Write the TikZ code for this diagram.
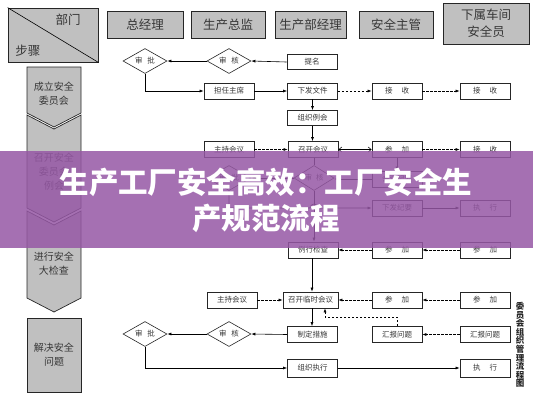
\documentclass[tikz,border=0pt]{standalone}
\usepackage{fontspec}
\setmainfont{Noto Sans CJK SC}
\usetikzlibrary{arrows.meta,shapes.geometric}
\definecolor{hdrgray}{RGB}{192,192,192}
\definecolor{bannerc}{RGB}{150,88,165}
\definecolor{txt}{RGB}{55,55,55}
\begin{document}
\begin{tikzpicture}[x=1pt,y=-1pt,
  hdr/.style={draw=black!85, line width=0.8pt, fill=hdrgray, minimum height=27pt, inner sep=0pt, font=\fontsize{12.5}{17}\selectfont, text=txt},
  fbox/.style={draw=black!85, line width=0.7pt, fill=white, minimum width=50pt, minimum height=16pt, inner sep=0pt, font=\fontsize{7.5}{9}\selectfont, text=txt},
  dia/.style={diamond, aspect=1.8, draw=black!85, line width=0.6pt, fill=white, minimum width=44pt, minimum height=25pt, inner sep=0pt, font=\fontsize{7.5}{9}\selectfont, text=txt},
  chev/.style={draw=black!85, line width=0.7pt, fill=hdrgray},
  ltxt/.style={align=center, font=\fontsize{10}{14}\selectfont, text=txt},
  arr/.style={line width=0.6pt, -{Latex[length=4pt,width=3pt]}},
  darr/.style={arr, dash pattern=on 2.5pt off 1.5pt},
]
\useasboundingbox (0,0) rectangle (533,400);
\fill[white] (0,0) rectangle (533,400);

% header row
\node[hdr, minimum width=90pt, minimum height=54pt] (corner) at (53,35) {};
\draw[line width=0.6pt] (corner.north west) -- (corner.south east);
\node[font=\fontsize{12.5}{14}\selectfont, text=txt] (bumen) at (68,20) {部门};
\node[font=\fontsize{12.5}{14}\selectfont, text=txt] (buzhou) at (28,51) {步骤};
\node[hdr, minimum width=76pt] (h1) at (145,24.5) {总经理};
\node[hdr, minimum width=74pt] (h2) at (228,24.5) {生产总监};
\node[hdr, minimum width=71pt] (h3) at (310.5,24.5) {生产部经理};
\node[hdr, minimum width=74pt] (h4) at (396,24.5) {安全主管};
\node[hdr, minimum width=86pt, minimum height=41pt, align=center] (h5) at (486,23.5) {下属车间\\安全员};

% left step column
\path[chev] (27,67) -- (81,67) -- (81,113) -- (54,127) -- (27,113) -- cycle;
\path[chev] (27,115) -- (54,129) -- (81,115) -- (81,208) -- (54,222) -- (27,208) -- cycle;
\path[chev] (27,211) -- (54,225) -- (81,211) -- (81,298) -- (54,312) -- (27,298) -- cycle;
\path[chev] (27,318) rectangle (81,392);
\node[ltxt] (s1) at (54,93.5) {成立安全\\委员会};
\node[ltxt] (s2) at (54,171.5) {召开安全\\委员会\\例会};
\node[ltxt] (s3) at (54,264) {进行安全\\大检查};
\node[ltxt] (s4) at (54,355) {解决安全\\问题};

% row 1
\node[dia] (sp1) at (145,61) {审\hspace{5pt}批};
\node[dia] (sh1) at (229,61) {审\hspace{5pt}核};
\node[fbox, minimum height=15pt] (tm) at (312,62) {提名};
\node[fbox] (dr) at (229,91) {担任主席};
\node[fbox] (xf) at (312.5,91) {下发文件};
\node[fbox] (js1) at (397,91) {接\hspace{9pt}收};
\node[fbox] (js2) at (485,91) {接\hspace{9pt}收};
\node[fbox, minimum height=15pt] (zz) at (312.5,118) {组织例会};
% row meeting
\node[fbox] (zc1) at (229,149.5) {主持会议};
\node[fbox] (zk) at (313,149.5) {召开会议};
\node[fbox] (cj1) at (397,149.5) {参\hspace{9pt}加};
\node[fbox] (js3) at (485,149.5) {接\hspace{9pt}收};
\node[dia, minimum width=40pt] (sh2) at (314,178) {审\hspace{4pt}核};
\node[dia] (sp2) at (229,178) {审\hspace{5pt}批};
\node[fbox] (hj) at (397,179) {会议纪要};
\node[fbox] (xj) at (397,208) {下发纪要};
\node[fbox] (zx1) at (485,208) {执\hspace{9pt}行};
\node[fbox] (lx) at (313,250) {例行检查};
\node[fbox] (cj2) at (397,250) {参\hspace{9pt}加};
\node[fbox] (cj3) at (485,250) {参\hspace{9pt}加};
% lower part
\node[fbox] (zc2) at (232,300) {主持会议};
\node[fbox, minimum width=55pt] (zl) at (310.5,300) {召开临时会议};
\node[fbox] (cj4) at (397,300) {参\hspace{9pt}加};
\node[fbox] (cj5) at (485,300) {参\hspace{9pt}加};
\node[dia] (sp3) at (145,334) {审\hspace{5pt}批};
\node[dia] (sh3) at (229,334) {审\hspace{5pt}核};
\node[fbox] (zd) at (312.5,334.5) {制定措施};
\node[fbox] (hb1) at (397,334.5) {汇报问题};
\node[fbox] (hb2) at (485,334.5) {汇报问题};
\node[fbox, minimum height=18pt] (zzx) at (312.5,368) {组织执行};
\node[fbox, minimum height=18pt] (zx2) at (485,368) {执\hspace{9pt}行};

% connectors
\draw[arr] (tm.west) -- (sh1.east);
\draw[arr] (sh1.west) -- (sp1.east);
\draw[arr] (sp1.south) |- (dr.west);
\draw[arr] (dr.east) -- (xf.west);
\draw[darr] (xf.east) -- (js1.west);
\draw[darr] (js1.east) -- (js2.west);
\draw[arr] (xf.south) -- (zz.north);
\draw[arr] (zz.south) -- (zk.north -| zz.south);
\draw[darr] (zc1.east) -- (zk.west);
\draw[line width=0.6pt, {Straight Barb[length=3pt,width=5pt]}-{Straight Barb[length=3pt,width=5pt]}] (zk.east) -- (cj1.west);
\draw[darr] (cj1.east) -- (js3.west);
\draw[arr] (cj1.south) -- (hj.north);
\draw[arr] (hj.west) -- (hj.west -| sh2.east);
\draw[arr] (sh2.west) -- (sp2.east);
\draw[line width=0.6pt] (zk.south -| sh2.north) -- (sh2.north);
\draw[arr] (sp2.south) -- (229,208) -- (310,208) arc[start angle=180, end angle=360, radius=4] -- (xj.west);
\draw[arr] (xj.east) -- (zx1.west);
\draw[arr] (sh2.south) -- (sh2.south |- lx.north);
\draw[darr] (cj2.west) -- (lx.east);
\draw[darr] (cj3.west) -- (cj2.east);
\draw[arr] (lx.south -| 312,0) -- (zl.north -| 312,0);
\draw[darr] (zc2.east) -- (zl.west);
\draw[darr] (cj4.west) -- (zl.east);
\draw[darr] (cj5.west) -- (cj4.east);
\draw[arr] (zl.south -| 312,0) -- (zd.north -| 312,0);
\coordinate (hk) at (325,317);
\draw[darr] (hb1.north) |- (hk) -- (hk |- zl.south);
\draw[darr] (hb2.west) -- (hb1.east);
\draw[arr] (zd.west) -- (sh3.east);
\draw[arr] (sh3.west) -- (sp3.east);
\draw[arr] (sp3.south) |- (zzx.west);
\draw[arr] (zzx.east) -- (zx2.west);

% vertical caption
\node[align=center, font=\fontsize{8.5}{8.6}\selectfont\bfseries, text=black!85] (cap) at (520,345) {委\\员\\会\\组\\织\\管\\理\\流\\程\\图};

% banner overlay
\fill[bannerc, fill opacity=0.85] (0,151) rectangle (533,248);
\node[align=center, text=white, font=\fontsize{29.5}{36}\selectfont\bfseries] (title) at (266,200) {生产工厂安全高效：工厂安全生\\产规范流程};
\end{tikzpicture}
\end{document}
